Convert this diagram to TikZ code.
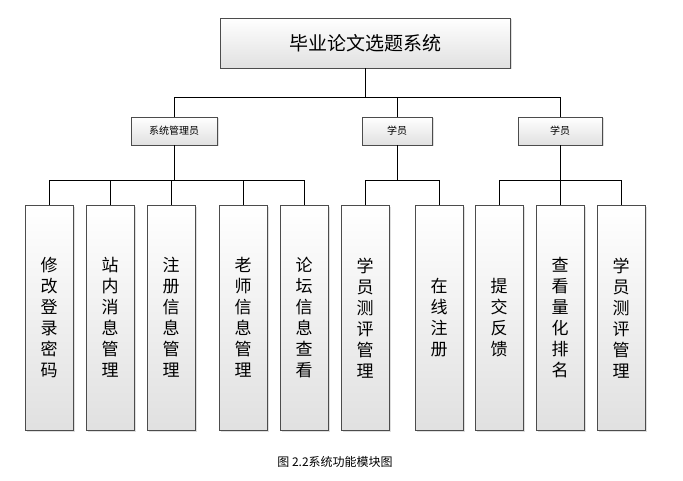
\documentclass[tikz,border=0pt]{standalone}
\usepackage{fontspec}
\newfontfamily\cjk{Noto Sans CJK SC}
\usetikzlibrary{shadows}
\tikzset{
  box/.style={draw=black!70,top color=white,bottom color=black!12,drop shadow={opacity=0.25,shadow xshift=1.5pt,shadow yshift=-1.5pt},inner sep=0pt},
  leaf/.style={box,minimum width=48pt,minimum height=225pt,anchor=north,font=\cjk\fontsize{17}{21}\selectfont,align=center,text width=20pt},
  role/.style={box,minimum width=86pt,minimum height=28pt,font=\cjk\fontsize{10}{12}\selectfont},
  link/.style={draw=black,line width=0.6pt}
}
\begin{document}
\begin{tikzpicture}[x=1pt,y=-1pt]
  \useasboundingbox[fill=white] (0,0) rectangle (683,481);

  \node [box,minimum width=290pt,minimum height=50pt,font=\cjk\fontsize{19}{22}\selectfont] (root) at (365,43) {毕业论文选题系统};

  \node [role] (admin) at (174,131) {系统管理员};
  \node [role,minimum width=70pt] (stu1) at (397,131) {学员};
  \node [role,minimum width=84pt] (stu2) at (560,131) {学员};

  \node [leaf] (l1) at (49,205) {修\\改\\登\\录\\密\\码};
  \node [leaf] (l2) at (110,205) {站\\内\\消\\息\\管\\理};
  \node [leaf] (l3) at (171,205) {注\\册\\信\\息\\管\\理};
  \node [leaf] (l4) at (243,205) {老\\师\\信\\息\\管\\理};
  \node [leaf] (l5) at (304,205) {论\\坛\\信\\息\\查\\看};
  \node [leaf] (l6) at (365,205) {学\\员\\测\\评\\管\\理};
  \node [leaf] (l7) at (439,205) {在\\线\\注\\册};
  \node [leaf] (l8) at (499,205) {提\\交\\反\\馈};
  \node [leaf] (l9) at (560,205) {查\\看\\量\\化\\排\\名};
  \node [leaf] (l10) at (621,205) {学\\员\\测\\评\\管\\理};

  % tree connectors
  \draw [link] (root.south) -- ++(0,29) coordinate (j0);
  \foreach \r in {admin,stu1,stu2}
    \draw [link] (j0) -| (\r.north);
  \draw [link] (admin.south) -- ++(0,35) coordinate (ja);
  \foreach \l in {l1,l2,l3,l4,l5}
    \draw [link] (ja) -| (\l.north);
  \draw [link] (stu1.south) -- ++(0,35) coordinate (jb);
  \foreach \l in {l6,l7}
    \draw [link] (jb) -| (\l.north);
  \draw [link] (stu2.south) -- ++(0,35) coordinate (jc);
  \foreach \l in {l8,l9,l10}
    \draw [link] (jc) -| (\l.north);

  \node [font=\cjk\fontsize{12}{14}\selectfont] (cap) at (335,462) {图 2.2系统功能模块图};
\end{tikzpicture}
\end{document}
